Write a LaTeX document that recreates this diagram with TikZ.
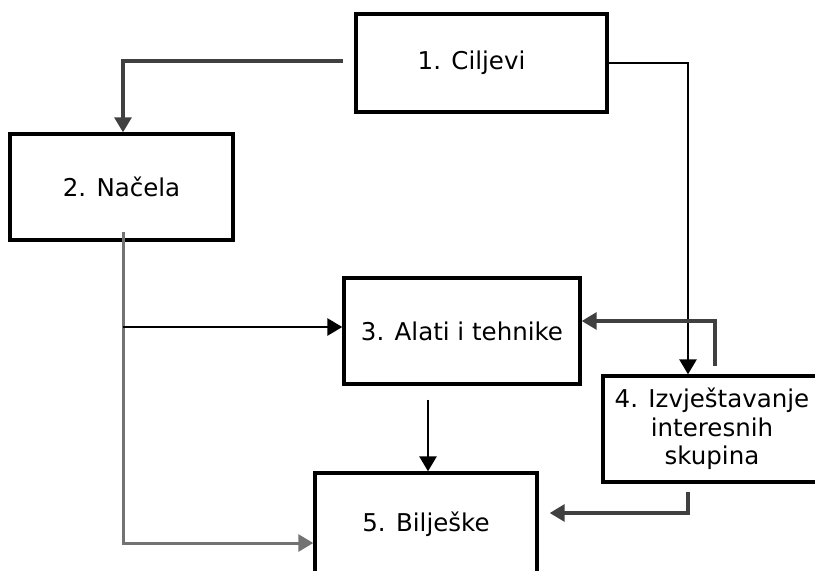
\documentclass[tikz,border=0pt]{standalone}
\usepackage{fontspec}
\setmainfont{DejaVu Sans}
\usetikzlibrary{arrows.meta}
\begin{document}
\begin{tikzpicture}[x=1pt,y=-1pt,
  box/.style={draw=black,line width=3.4pt,rectangle,inner sep=0pt,align=center,
    font=\fontsize{24.5}{28.5}\selectfont},
  conn/.style={line width=2.9pt,draw=black},
  tip/.style={-{Triangle[length=15pt,width=17pt]}},
  greyconn/.style={line width=3pt,draw=black!55},
  darkconn/.style={line width=3.2pt,draw=black!75}]
\useasboundingbox (0,0) rectangle (815,571);
\node[box,minimum width=251pt,minimum height=98pt] (b1) at (481.5,63) {\hspace*{-20pt}1. Ciljevi};
\node[box,minimum width=223pt,minimum height=106pt] (b2) at (121.5,187) {2. Načela};
\node[box,minimum width=236pt,minimum height=106pt] (b3) at (462,331) {3. Alati i tehnike};
\node[box,minimum width=218pt,minimum height=106pt] (b4) at (712,429) {4. Izvještavanje\\interesnih\\skupina};
\node[box,minimum width=222pt,minimum height=102pt] (b5) at (426,524) {5. Bilješke};
\coordinate (b3in) at ([yshift=4pt]b3.west);
% connectors
\draw[darkconn,tip] ([xshift=-11pt,yshift=2pt]b1.west) -| ([xshift=1.5pt]b2.north);
\draw[conn,tip] (b1.east) -| ([xshift=-24pt]b4.north);
\draw[greyconn,tip] ([xshift=1.5pt,yshift=10pt]b2.south) |- ([yshift=-19pt]b5.west);
\draw[conn,tip] ([xshift=1.5pt]b2.south |- b3in) -- (b3in);
\draw[conn,tip] ([xshift=-34pt,yshift=-14pt]b3.south) -- ([xshift=2pt]b5.north);
\draw[darkconn,tip] ([xshift=3pt,yshift=8pt]b4.north) |- ([yshift=10pt]b3.east);
\draw[darkconn,tip] ([xshift=-24pt,yshift=-8pt]b4.south) |- ([xshift=11pt,yshift=11pt]b5.east);
\end{tikzpicture}
\end{document}
